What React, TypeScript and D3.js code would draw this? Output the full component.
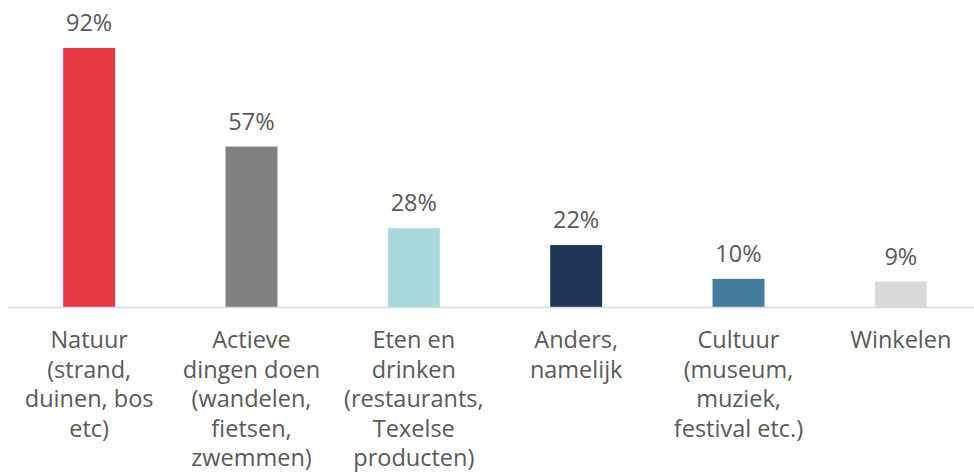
import React from "react";
import * as d3 from "d3";

const categories: string[][] = [
  ["Natuur", "(strand,", "duinen, bos", "etc)"],
  ["Actieve", "dingen doen", "(wandelen,", "fietsen,", "zwemmen)"],
  ["Eten en", "drinken", "(restaurants,", "Texelse", "producten)"],
  ["Anders,", "namelijk"],
  ["Cultuur", "(museum,", "muziek,", "festival etc.)"],
  ["Winkelen"],
];
const values: number[] = [92, 57, 28, 22, 10, 9];
const valueLabels: string[] = ["92%", "57%", "28%", "22%", "10%", "9%"];
const colors: string[] = ["#E63946", "#808080", "#A8DADC", "#1D3557", "#457B9D", "#D9D9D9"];

const W = 974;
const H = 476;

export default function App() {
  const idx = values.map((_, i) => String(i));
  const x = d3.scaleBand<string>().domain(idx).range([8, 982]).paddingInner(0.68).paddingOuter(0.34);
  const y = d3.scaleLinear().domain([0, 100]).range([307, 25.5]);
  const font = "'Open Sans', sans-serif";
  return (
    <svg width={W} height={H} style={{ position: "absolute", left: 0, top: 0, background: "#fff" }}>
      {values.map((v, i) => (
        <rect key={"b" + i} x={x(String(i))!} y={y(v)} width={x.bandwidth()} height={y(0) - y(v)} fill={colors[i]} />
      ))}
      <line x1={8} x2={974} y1={y(0) + 0.5} y2={y(0) + 0.5} stroke="#D9D9D9" strokeWidth={1.5} />
      {values.map((v, i) => (
        <text key={"v" + i} x={x(String(i))! + x.bandwidth() / 2} y={y(v) - 17} textAnchor="middle" fontFamily={font} fontSize={23.5} fill="#595959">
          {valueLabels[i]}
        </text>
      ))}
      {categories.map((lines, i) => (
        <text key={"c" + i} textAnchor="middle" fontFamily={font} fontSize={23.5} fill="#595959">
          {lines.map((l, j) => (
            <tspan key={j} x={x(String(i))! + x.bandwidth() / 2} y={348 + j * 29.6}>{l}</tspan>
          ))}
        </text>
      ))}
    </svg>
  );
}
